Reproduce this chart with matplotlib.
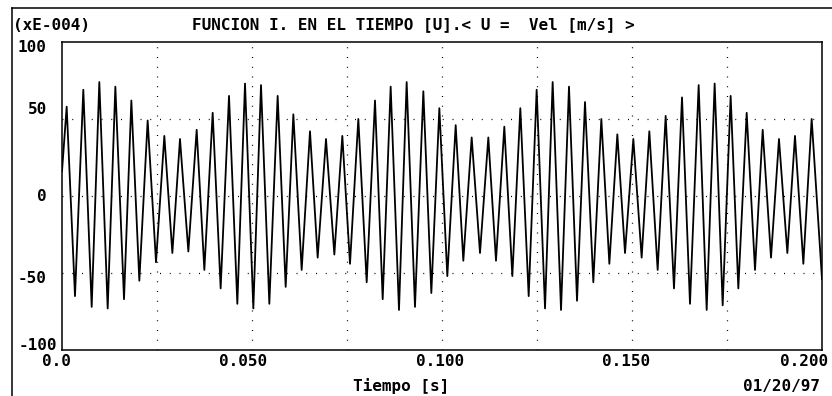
import numpy as np
import matplotlib
matplotlib.use('Agg')
import matplotlib.pyplot as plt
from matplotlib.lines import Line2D
from matplotlib.transforms import ScaledTranslation

# extrema of the signal (time in ms, value in units of 1e-4)
t_ms = [0.0, 1.23, 3.42, 5.61, 7.81, 9.82, 12.02, 14.04, 16.32, 18.25, 20.35, 22.54,
        24.74, 26.93, 29.04, 31.05, 33.25, 35.44, 37.46, 39.65, 41.75, 43.95, 46.14, 48.16,
        50.35, 52.37, 54.56, 56.75, 58.86, 60.88, 63.07, 65.26, 67.28, 69.47, 71.67, 73.77,
        75.79, 77.98, 80.18, 82.37, 84.39, 86.49, 88.68, 90.70, 92.89, 95.09, 97.19,
        99.30, 101.40, 103.60, 105.61, 107.81, 110.00, 112.19, 114.21, 116.40, 118.51,
        120.61, 122.81, 124.91, 127.11, 129.12, 131.32, 133.42, 135.53, 137.63, 139.82,
        141.93, 144.04, 146.14,
        148.16, 150.35, 152.54, 154.56, 156.75, 158.86, 161.05, 163.16, 165.26, 167.54,
        169.65, 171.75, 173.86, 175.96, 177.98, 180.18, 182.37, 184.39, 186.58, 188.68,
        190.88, 192.89, 195.09, 197.28, 200.0]
vel = [16, 58, -65, 69, -72, 74, -73, 71, -67, 62, -55, 49,
       -43, 39, -37, 37, -36, 43, -48, 54, -60, 65, -70, 73,
       -73, 72, -70, 65, -59, 53, -48, 42, -40, 37, -38, 39,
       -44, 50, -56, 62, -67, 71, -74, 74, -72, 68, -63,
       57, -52, 46, -42, 38, -37, 38, -42, 45, -52,
       57, -65, 69, -73, 74, -74, 71, -68, 61, -56,
       50, -44, 40,
       -37, 37, -40, 42, -48, 52, -60, 64, -70, 72,
       -74, 73, -71, 65, -60, 54, -48, 43, -40, 37,
       -37, 39, -44, 50, -54]

x_ticks = [0.0, 0.05, 0.10, 0.15, 0.20]
x_labels = ['0.0', '0.050', '0.100', '0.150', '0.200']
y_ticks = [100, 50, 0, -50, -100]
y_labels = ['100', '50', '0', '-50', '-100']
x_grid = [0.025, 0.05, 0.075, 0.10, 0.125, 0.15, 0.175]
y_grid = [50, 0, -50]

title = 'FUNCION I. EN EL TIEMPO [U].< U =  Vel [m/s] >'
scale_txt = '(xE-004)'
xlabel = 'Tiempo [s]'
date_txt = '01/20/97'

plt.rcParams['font.family'] = ['DejaVu Sans Mono']
plt.rcParams['font.weight'] = 'bold'
fs = 11.5

W, H = 832, 396
fig = plt.figure(figsize=(W / 100, H / 100), dpi=100)
ax = fig.add_axes([62 / W, (H - 350) / H, 760 / W, 308 / H])

t = np.array(t_ms) / 1000.0
ax.plot(t, vel, color='black', lw=1.3)

dots = (0, (0.8, 7.0))
for g in x_grid:
    ax.axvline(g, color='black', lw=0.9, linestyle=dots, zorder=0)
for g in y_grid:
    ax.axhline(g, color='black', lw=0.9, linestyle=dots, zorder=0)

ax.set_xlim(0, 0.2)
ax.set_ylim(-100, 100)
for s in ax.spines.values():
    s.set_linewidth(1.1)

ax.set_xticks(x_ticks)
ax.set_xticklabels(x_labels, fontsize=fs, fontweight='bold')
ax.set_yticks(y_ticks)
ax.set_yticklabels(y_labels, fontsize=fs, fontweight='bold')
ax.tick_params(length=0)
ax.tick_params(axis='x', pad=3)
ax.tick_params(axis='y', pad=11)

# shift labels (pixels) like the old DOS layout
px = 0.72 / 72
x_shift = [(-6, 0), (-9, 0), (-2, 0), (-6, 0), (-18, 0)]
for lab, (dx, dy) in zip(ax.get_xticklabels(), x_shift):
    lab.set_transform(lab.get_transform() + ScaledTranslation(dx * px, dy * px, fig.dpi_scale_trans))
y_shift = [(0, -4), (0, 11), (0, 1), (0, -4), (10, 6)]
for lab, (dx, dy) in zip(ax.get_yticklabels(), y_shift):
    lab.set_transform(lab.get_transform() + ScaledTranslation(dx * px, dy * px, fig.dpi_scale_trans))

fig.text(13 / W, 1 - 25 / H, scale_txt, fontsize=fs, fontweight='bold', ha='left', va='center')
fig.text(413 / W, 1 - 25 / H, title, fontsize=fs, fontweight='bold', ha='center', va='center')
fig.text(401 / W, 1 - 386 / H, xlabel, fontsize=fs, fontweight='bold', ha='center', va='center')
fig.text(820 / W, 1 - 386 / H, date_txt, fontsize=fs, fontweight='bold', ha='right', va='center')

# outer frame (top and left edges only)
fig.add_artist(Line2D([12 / W, 1.0], [1 - 8 / H, 1 - 8 / H], color='black', lw=1.1, transform=fig.transFigure))
fig.add_artist(Line2D([12 / W, 12 / W], [0.0, 1 - 8 / H], color='black', lw=1.1, transform=fig.transFigure))

fig.savefig('out.png', dpi=100)
plt.close(fig)
